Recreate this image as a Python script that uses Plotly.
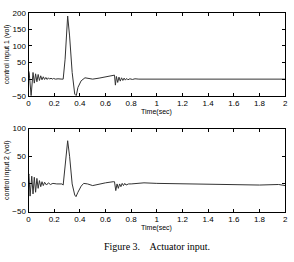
import plotly.graph_objects as go

# Time samples and control input 1 (vol)
t1 = [0, 0.005, 0.02, 0.035, 0.045, 0.055, 0.065, 0.075, 0.085, 0.095, 0.105, 0.115,
      0.125, 0.135, 0.145, 0.155, 0.165, 0.175, 0.185, 0.195, 0.21, 0.23, 0.26, 0.27,
      0.285, 0.305, 0.32, 0.34, 0.36, 0.372, 0.385, 0.41, 0.44, 0.47, 0.5, 0.55,
      0.6, 0.66, 0.67, 0.677, 0.685, 0.695, 0.705, 0.715, 0.725, 0.735, 0.745,
      0.755, 0.765, 0.775, 0.79, 0.81, 0.83, 0.86, 0.9, 1.0, 1.2, 1.5, 1.8, 1.9, 2.0]
u1 = [25, 20, -50, 20, -12, 16, -8, 14, -4, 10, -2, 7,
      -1, 5, -1, 4, 0, 3, 0, 2, 0, 1, 0, 0,
      60, 190, 130, 20, -45, -50, -25, -5, 4, 2, 0, 3,
      6, 10, 12, -18, 8, -10, 6, -6, 4, -4, 3,
      -3, 2, -2, 1, -1, 1, 0, 0, 0, -1, 0, 0, 1, 0]

# Time samples and control input 2 (vol)
t2 = [0, 0.003, 0.012, 0.025, 0.035, 0.045, 0.055, 0.065, 0.075, 0.085, 0.095,
      0.105, 0.115, 0.125, 0.14, 0.155, 0.17, 0.19, 0.22, 0.26, 0.27, 0.285,
      0.305, 0.32, 0.34, 0.36, 0.37, 0.385, 0.41, 0.43, 0.46, 0.5, 0.55, 0.6,
      0.66, 0.67, 0.68, 0.69, 0.7, 0.71, 0.72, 0.73, 0.74, 0.75, 0.76, 0.78,
      0.8, 0.9, 1.0, 1.2, 1.5, 1.8, 1.95, 2.0]
u2 = [15, 18, -22, 14, -18, 12, -15, 10, -8, 6, -5,
      4, -3, 3, -2, 2, -1, 1, 0, 0, -2, 30,
      78, 50, 0, -20, -23, -15, -4, 1, 0, -3, 0, 2,
      4, 4, -12, 0, -8, 0, -5, 1, -3, 1, -2, 0,
      0, 2, 1, 0, -1, -2, -1, -3]

xticks = [0, 0.2, 0.4, 0.6, 0.8, 1, 1.2, 1.4, 1.6, 1.8, 2]
xticklabels = ["0", "0.2", "0.4", "0.6", "0.8", "1", "1.2", "1.4", "1.6", "1.8", "2"]
yticks1 = [-50, 0, 50, 100, 150, 200]
yticks2 = [-50, 0, 50, 100]

W, H = 294, 262
font = dict(family="Liberation Sans, Arial, sans-serif", size=8, color="#000")

fig = go.Figure()
fig.add_trace(go.Scatter(x=t1, y=u1, mode="lines", line=dict(color="#333", width=1),
                         xaxis="x", yaxis="y", showlegend=False))
fig.add_trace(go.Scatter(x=t2, y=u2, mode="lines", line=dict(color="#333", width=1),
                         xaxis="x2", yaxis="y2", showlegend=False))

xdom = [27 / W, 288 / W]
ax_common = dict(showline=True, linecolor="#000", linewidth=1, mirror="allticks",
                 ticks="inside", ticklen=3, tickcolor="#000", showgrid=False,
                 zeroline=False, tickfont=font)

fig.update_layout(
    width=W, height=H, margin=dict(l=0, r=0, t=0, b=0),
    paper_bgcolor="white", plot_bgcolor="white",
    xaxis=dict(domain=xdom, range=[0, 2], tickvals=xticks, ticktext=xticklabels,
               anchor="y", **ax_common),
    yaxis=dict(domain=[1 - 95 / H, 1 - 9 / H], range=[-50, 200], tickvals=yticks1,
               anchor="x", **ax_common),
    xaxis2=dict(domain=xdom, range=[0, 2], tickvals=xticks, ticktext=xticklabels,
                anchor="y2", **ax_common),
    yaxis2=dict(domain=[1 - 215 / H, 1 - 129 / H], range=[-50, 100], tickvals=yticks2,
                anchor="x2", **ax_common),
)

ann_font = dict(family="Liberation Sans, Arial, sans-serif", size=7, color="#000")


def ann(text, px, py, **kw):
    fig.add_annotation(text=text, x=px / W, y=1 - py / H, xref="paper", yref="paper",
                       xanchor="center", yanchor="middle", showarrow=False, **kw)


ann("Time(sec)", 157.5, 112, font=ann_font)
ann("Time(sec)", 157.5, 232, font=ann_font)
ann("control input 1 (vol)", 5, 52, textangle=-90, font=ann_font)
ann("control input 2 (vol)", 5, 172, textangle=-90, font=ann_font)
ann("Figure 3.    Actuator input.", 158, 251,
    font=dict(family="Liberation Serif, Times New Roman, serif", size=10, color="#000"))

fig.write_html("out.html")
